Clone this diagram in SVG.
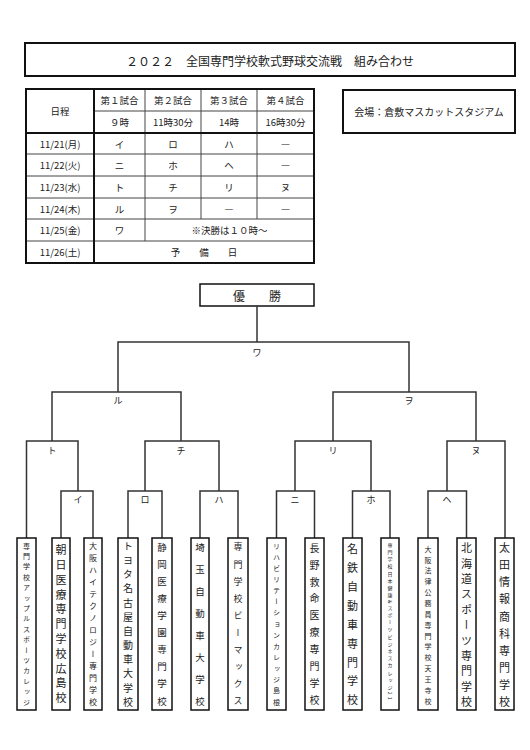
<svg xmlns="http://www.w3.org/2000/svg" width="530" height="750" viewBox="0 0 530 750">
<style>
text{font-family:'Noto Sans CJK JP','Noto Sans CJK SC',sans-serif;fill:#222;}
.h{text-anchor:middle;dominant-baseline:central;}
.t{font-size:9.5px;}
.lbl{font-size:9px;}
.v{writing-mode:vertical-rl;text-anchor:start;}
.box{fill:#fff;stroke:#111;}
.thin{stroke:#444;stroke-width:1;fill:none;}
.thick{stroke:#111;stroke-width:2;fill:none;}
.con{stroke:#333;stroke-width:1.5;fill:none;}
</style>
<rect width="530" height="750" fill="#fff"/>

<g id="title">
<rect class="box" x="25" y="43" width="490" height="33" stroke-width="2"/>
<text class="h" x="270" y="60" font-size="12">２０２２　全国専門学校軟式野球交流戦　組み合わせ</text>
</g>

<g id="schedule">
<g class="thin">
<line x1="94" y1="111" x2="314" y2="111"/>
<line x1="26" y1="154" x2="314" y2="154"/>
<line x1="26" y1="176" x2="314" y2="176"/>
<line x1="26" y1="198" x2="314" y2="198"/>
<line x1="26" y1="219" x2="314" y2="219"/>
<line x1="26" y1="241" x2="314" y2="241"/>
<line x1="145" y1="89" x2="145" y2="241"/>
<line x1="201" y1="89" x2="201" y2="219"/>
<line x1="257" y1="89" x2="257" y2="219"/>
</g>
<line class="thick" x1="26" y1="133" x2="314" y2="133"/>
<line class="thick" x1="94" y1="89" x2="94" y2="263" stroke-width="1.5"/>
<rect class="thick" x="26" y="89" width="288" height="174"/>
<g class="h t">
<text x="60" y="111">日程</text>
<text x="119.5" y="100">第１試合</text>
<text x="173" y="100">第２試合</text>
<text x="229" y="100">第３試合</text>
<text x="285.5" y="100">第４試合</text>
<text x="119.5" y="122">９時</text>
<text x="173" y="122">11時30分</text>
<text x="229" y="122">14時</text>
<text x="285.5" y="122">16時30分</text>
<text x="60" y="143.5">11/21(月)</text>
<text x="119.5" y="143.5">イ</text>
<text x="173" y="143.5">ロ</text>
<text x="229" y="143.5">ハ</text>
<text x="285.5" y="143.5">―</text>
<text x="60" y="165">11/22(火)</text>
<text x="119.5" y="165">ニ</text>
<text x="173" y="165">ホ</text>
<text x="229" y="165">ヘ</text>
<text x="285.5" y="165">―</text>
<text x="60" y="187">11/23(水)</text>
<text x="119.5" y="187">ト</text>
<text x="173" y="187">チ</text>
<text x="229" y="187">リ</text>
<text x="285.5" y="187">ヌ</text>
<text x="60" y="208.5">11/24(木)</text>
<text x="119.5" y="208.5">ル</text>
<text x="173" y="208.5">ヲ</text>
<text x="229" y="208.5">―</text>
<text x="285.5" y="208.5">―</text>
<text x="60" y="230">11/25(金)</text>
<text x="119.5" y="230">ワ</text>
<text x="229.5" y="230">※決勝は１０時～</text>
<text x="60" y="252">11/26(土)</text>
<text x="204" y="252">予　　備　　日</text>
</g>
</g>

<g id="venue">
<rect class="box" x="343" y="90" width="172" height="43" stroke-width="2"/>
<text class="h" x="429" y="111" font-size="10">会場：倉敷マスカットスタジアム</text>
</g>

<g id="winner">
<rect class="box" x="200" y="284" width="114" height="22" stroke-width="1.5"/>
<text class="h" x="257" y="295" font-size="12">優　　勝</text>
</g>

<g id="connectors" class="con">
<polyline points="257,306 257,342"/>
<polyline points="118,392 118,342 409,342 409,392"/>
<polyline points="52,441 52,392 181,392 181,441"/>
<polyline points="333,441 333,392 476,392 476,441"/>
<polyline points="26.5,538 26.5,441 78,441 78,491"/>
<polyline points="61,538 61,491 93,491 93,538"/>
<polyline points="145,491 145,441 219,441 219,491"/>
<polyline points="128,538 128,491 162,491 162,538"/>
<polyline points="200,538 200,491 238,491 238,538"/>
<polyline points="295,491 295,441 371,441 371,491"/>
<polyline points="276.5,538 276.5,491 314.5,491 314.5,538"/>
<polyline points="352.5,538 352.5,491 390,491 390,538"/>
<polyline points="447,491 447,441 505,441 505,538"/>
<polyline points="428,538 428,491 466.5,491 466.5,538"/>
</g>

<g id="match-labels" class="h lbl">
<text x="257" y="352">ワ</text>
<text x="118" y="400">ル</text>
<text x="409" y="400">ヲ</text>
<text x="52" y="450">ト</text>
<text x="181" y="450">チ</text>
<text x="333" y="450">リ</text>
<text x="476" y="450">ヌ</text>
<text x="78" y="499">イ</text>
<text x="145" y="499">ロ</text>
<text x="219" y="499">ハ</text>
<text x="295" y="499">ニ</text>
<text x="371" y="499">ホ</text>
<text x="447" y="499">ヘ</text>
</g>

<g id="team1"><rect class="box" x="17" y="538" width="19" height="172" stroke-width="1.5"/><text class="v" x="26.5" y="542.5" font-size="7" letter-spacing="3.4">専門学校アップルスポーツカレッジ</text></g>
<g id="team2"><rect class="box" x="52" y="538" width="18" height="172" stroke-width="1.5"/><text class="v" x="61" y="544.5" font-size="11" letter-spacing="3.8">朝日医療専門学校広島校</text></g>
<g id="team3"><rect class="box" x="84" y="538" width="18" height="172" stroke-width="1.5"/><text class="v" x="93" y="542" font-size="8" letter-spacing="4">大阪ハイテクノロジー専門学校</text></g>
<g id="team4"><rect class="box" x="118" y="538" width="20" height="172" stroke-width="1.5"/><text class="v" x="128" y="541" font-size="10" letter-spacing="4.18">トヨタ名古屋自動車大学校</text></g>
<g id="team5"><rect class="box" x="152" y="538" width="20" height="172" stroke-width="1.5"/><text class="v" x="162" y="542.25" font-size="9.5" letter-spacing="7.6">静岡医療学園専門学校</text></g>
<g id="team6"><rect class="box" x="191" y="538" width="18" height="172" stroke-width="1.5"/><text class="v" x="200" y="542.25" font-size="9.5" letter-spacing="12.5">埼玉自動車大学校</text></g>
<g id="team7"><rect class="box" x="228" y="538" width="20" height="172" stroke-width="1.5"/><text class="v" x="238" y="542.5" font-size="9" letter-spacing="8.1">専門学校ビーマックス</text></g>
<g id="team8"><rect class="box" x="267" y="538" width="19" height="172" stroke-width="1.5"/><text class="v" x="276.5" y="542.5" font-size="7" letter-spacing="4.14">リハビリテーションカレッジ島根</text></g>
<g id="team9"><rect class="box" x="305" y="538" width="19" height="172" stroke-width="1.5"/><text class="v" x="314.5" y="543" font-size="10" letter-spacing="6.9">長野救命医療専門学校</text></g>
<g id="team10"><rect class="box" x="343" y="538" width="19" height="172" stroke-width="1.5"/><text class="v" x="352.5" y="543.5" font-size="11" letter-spacing="7.9">名鉄自動車専門学校</text></g>
<g id="team11"><rect class="box" x="381" y="538" width="18" height="172" stroke-width="1.5"/><text class="v" x="390" y="542.5" font-size="5" letter-spacing="2.18">専門学校日本健康&amp;スポーツビジネスカレッジ21</text></g>
<g id="team12"><rect class="box" x="418" y="538" width="20" height="172" stroke-width="1.5"/><text class="v" x="428" y="545.5" font-size="7" letter-spacing="3.86">大阪法律公務員専門学校天王寺校</text></g>
<g id="team13"><rect class="box" x="457" y="538" width="19" height="172" stroke-width="1.5"/><text class="v" x="466.5" y="542.5" font-size="11" letter-spacing="4.4">北海道スポーツ専門学校</text></g>
<g id="team14"><rect class="box" x="495" y="538" width="19" height="172" stroke-width="1.5"/><text class="v" x="504.5" y="542.5" font-size="11" letter-spacing="6.1">太田情報商科専門学校</text></g>
</svg>
